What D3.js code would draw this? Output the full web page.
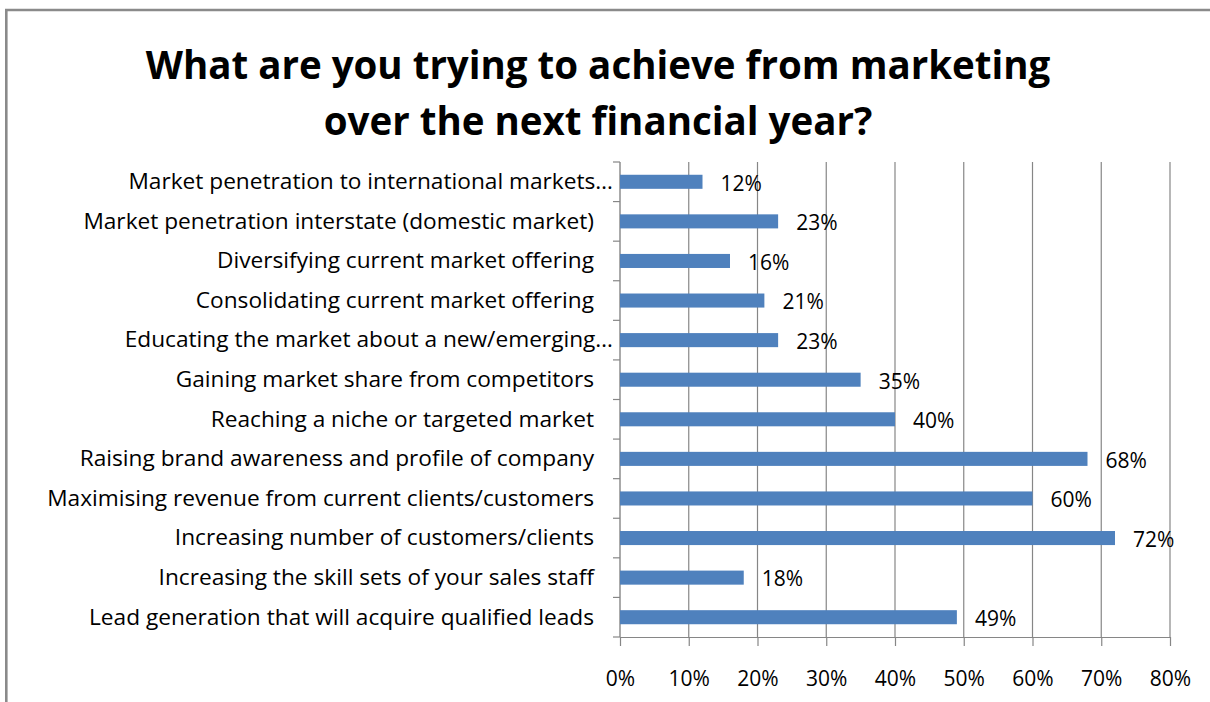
<!DOCTYPE html>
<html>
<head>
<meta charset="utf-8">
<script src="https://cdn.jsdelivr.net/npm/d3@7"></script>
<style>
  html, body { margin: 0; padding: 0; background: #fff; }
  svg { display: block; }
  text { font-family: "Open Sans", "Liberation Sans", Arial, sans-serif; fill: #000; }
</style>
</head>
<body>
<svg id="chart" width="1210" height="702"></svg>
<script>
// Survey answers, top to bottom
const categories = [
  "Market penetration to international markets…",
  "Market penetration interstate (domestic market)",
  "Diversifying current market offering",
  "Consolidating current market offering",
  "Educating the market about a new/emerging…",
  "Gaining market share from competitors",
  "Reaching a niche or targeted market",
  "Raising brand awareness and profile of company",
  "Maximising revenue from current clients/customers",
  "Increasing number of customers/clients",
  "Increasing the skill sets of your sales staff",
  "Lead generation that will acquire qualified leads"
];
const values = [12, 23, 16, 21, 23, 35, 40, 68, 60, 72, 18, 49];
const tickValues = [0, 10, 20, 30, 40, 50, 60, 70, 80];
const titleLines = ["What are you trying to achieve from marketing", "over the next financial year?"];

const svg = d3.select("#chart");
const W = 1210, H = 702;
const margin = { left: 620, right: 40, top: 162, bottom: 65 };
const gray = "#868686";
const barColor = "#4f81bd";

// outer chart frame (left and top edges visible)
svg.append("path")
  .attr("d", `M6.3,${H} L6.3,10 L${W},10`)
  .attr("fill", "none")
  .attr("stroke", "#8a8a8a")
  .attr("stroke-width", 2.6);

// title
svg.append("g").selectAll("text")
  .data(titleLines)
  .join("text")
  .attr("x", 598)
  .attr("y", (d, i) => 79 + i * 56)
  .attr("text-anchor", "middle")
  .style("font-size", "38.5px")
  .style("font-weight", "bold")
  .text(d => d);

const x = d3.scaleLinear().domain([0, 80]).range([margin.left, W - margin.right]);
const y = d3.scaleBand().domain(categories).range([margin.top, H - margin.bottom]).paddingInner(0.645).paddingOuter(0.3225);
const yOuter = d3.scaleBand().domain(categories).range([margin.top, H - margin.bottom]);

// vertical gridlines
svg.append("g").selectAll("line")
  .data(tickValues.slice(1))
  .join("line")
  .attr("x1", d => x(d)).attr("x2", d => x(d))
  .attr("y1", margin.top).attr("y2", H - margin.bottom)
  .attr("stroke", gray).attr("stroke-width", 1.2);

// x axis
const xAxis = svg.append("g")
  .attr("transform", `translate(0,${H - margin.bottom})`)
  .call(d3.axisBottom(x).tickValues(tickValues).tickFormat(d => d + "%").tickSize(9).tickSizeOuter(0).tickPadding(25));
xAxis.select(".domain").attr("stroke", gray).attr("stroke-width", 1.2);
xAxis.selectAll(".tick line").attr("stroke", gray).attr("stroke-width", 1.2);
xAxis.selectAll(".tick text").style("font-size", "21px").style("font-family", null).attr("fill", "#000");

// y axis line and category separators
const yAxisG = svg.append("g");
yAxisG.append("line")
  .attr("x1", x(0)).attr("x2", x(0))
  .attr("y1", margin.top).attr("y2", H - margin.bottom)
  .attr("stroke", gray).attr("stroke-width", 1.4);
const bounds = categories.map(c => yOuter(c)).concat([H - margin.bottom]);
yAxisG.selectAll("line.sep")
  .data(bounds)
  .join("line")
  .attr("class", "sep")
  .attr("x1", x(0) - 7).attr("x2", x(0))
  .attr("y1", d => d).attr("y2", d => d)
  .attr("stroke", gray).attr("stroke-width", 1.2);

// category labels, slightly widened glyphs
svg.append("g").selectAll("text")
  .data(categories)
  .join("text")
  .attr("transform", d => `translate(${d.endsWith("…") ? 613 : 594},${yOuter(d) + yOuter.bandwidth() / 2}) scale(1.08,1)`)
  .attr("dy", "0.35em")
  .attr("text-anchor", "end")
  .style("font-size", "21px")
  .text(d => d);

// bars
svg.append("g").selectAll("rect")
  .data(values)
  .join("rect")
  .attr("x", x(0))
  .attr("y", (d, i) => y(categories[i]))
  .attr("width", d => x(d) - x(0))
  .attr("height", y.bandwidth())
  .attr("fill", barColor);

// value labels
svg.append("g").selectAll("text")
  .data(values)
  .join("text")
  .attr("x", d => x(d) + 18)
  .attr("y", (d, i) => y(categories[i]) + y.bandwidth() / 2 + 1.5)
  .attr("dy", "0.35em")
  .style("font-size", "21px")
  .text(d => d + "%");
</script>
</body>
</html>
